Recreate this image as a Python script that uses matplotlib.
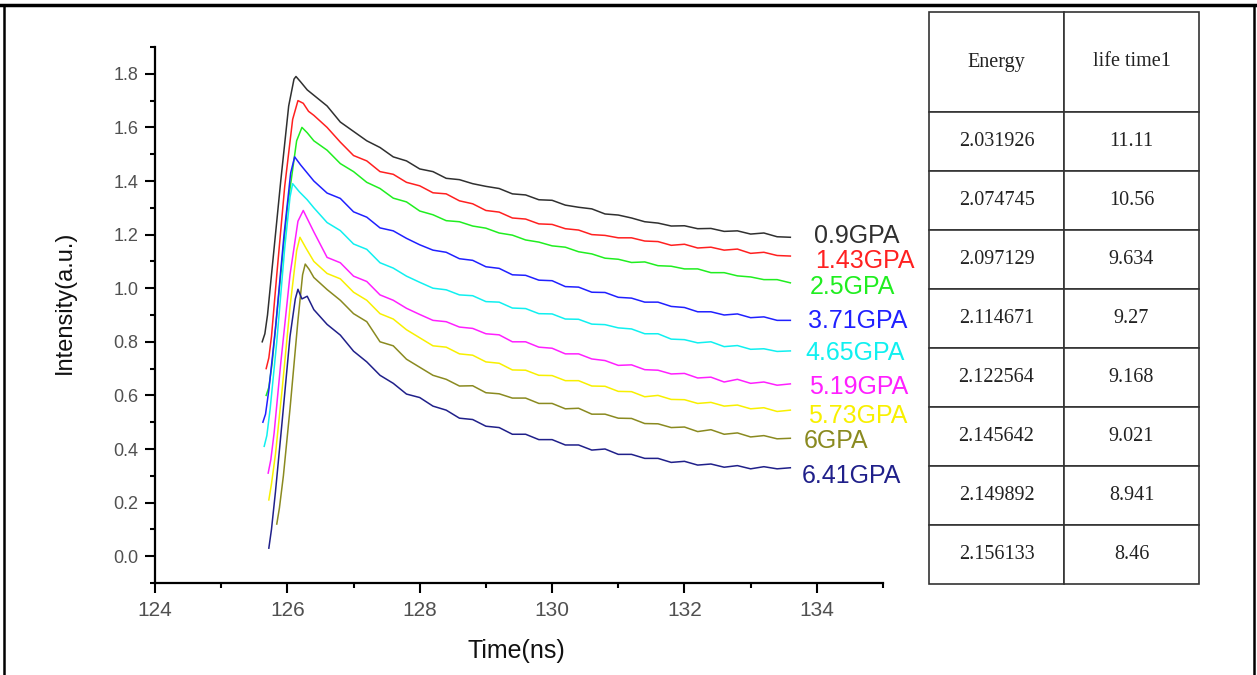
import matplotlib
matplotlib.use("Agg")
import matplotlib.pyplot as plt
from matplotlib.ticker import MultipleLocator, FormatStrFormatter

plt.rcParams['font.family'] = ['Liberation Sans', 'DejaVu Sans']

# shared time grid for the decay tails (ns)
t_tail = [126.4, 126.6, 126.8, 127.0, 127.2, 127.4, 127.6, 127.8, 128.0, 128.2,
          128.4, 128.6, 128.8, 129.0, 129.2, 129.4, 129.6, 129.8, 130.0, 130.2,
          130.4, 130.6, 130.8, 131.0, 131.2, 131.4, 131.6, 131.8, 132.0, 132.2,
          132.4, 132.6, 132.8, 133.0, 133.2, 133.4, 133.6]

labels = ['0.9GPA', '1.43GPA', '2.5GPA', '3.71GPA', '4.65GPA',
          '5.19GPA', '5.73GPA', '6GPA', '6.41GPA']
colors = ['#303030', '#ff2020', '#20ee20', '#2020ff', '#10f0f0',
          '#ff20ff', '#f8f000', '#8a8a20', '#20208a']

rise_t = [
    [125.62, 125.66, 125.70, 125.78, 125.90, 126.02, 126.10, 126.13, 126.20, 126.30],
    [125.68, 125.72, 125.76, 125.84, 125.96, 126.08, 126.16, 126.24, 126.32],
    [125.68, 125.72, 125.77, 125.86, 126.00, 126.14, 126.22, 126.30],
    [125.63, 125.67, 125.72, 125.82, 125.95, 126.05, 126.11, 126.20, 126.30],
    [125.65, 125.69, 125.74, 125.84, 125.96, 126.04, 126.08, 126.18, 126.30],
    [125.71, 125.75, 125.80, 125.90, 126.04, 126.16, 126.24, 126.32],
    [125.72, 125.76, 125.82, 125.92, 126.04, 126.14, 126.19, 126.28],
    [125.84, 125.88, 125.94, 126.04, 126.16, 126.23, 126.27, 126.33],
    [125.72, 125.76, 125.82, 125.92, 126.04, 126.12, 126.16, 126.22, 126.30],
]
rise_v = [
    [0.80, 0.83, 0.90, 1.10, 1.40, 1.68, 1.78, 1.79, 1.77, 1.74],
    [0.70, 0.74, 0.82, 1.05, 1.38, 1.63, 1.70, 1.69, 1.66],
    [0.60, 0.63, 0.72, 0.95, 1.30, 1.55, 1.60, 1.58],
    [0.50, 0.53, 0.62, 0.85, 1.20, 1.43, 1.49, 1.46, 1.43],
    [0.41, 0.45, 0.55, 0.80, 1.15, 1.34, 1.39, 1.36, 1.33],
    [0.31, 0.36, 0.46, 0.72, 1.05, 1.25, 1.29, 1.25],
    [0.21, 0.27, 0.38, 0.62, 0.93, 1.14, 1.19, 1.15],
    [0.12, 0.18, 0.30, 0.55, 0.88, 1.05, 1.09, 1.07],
    [0.03, 0.10, 0.24, 0.50, 0.82, 0.96, 0.996, 0.96, 0.97],
]
tail_v = [
    [1.72, 1.68, 1.62, 1.585, 1.55, 1.525, 1.49, 1.475, 1.445, 1.435, 1.41, 1.405, 1.39,
     1.38, 1.372, 1.352, 1.348, 1.33, 1.328, 1.31, 1.302, 1.296, 1.277, 1.273, 1.262,
     1.248, 1.243, 1.232, 1.233, 1.222, 1.223, 1.212, 1.214, 1.202, 1.206, 1.192, 1.19],
    [1.645, 1.6, 1.545, 1.495, 1.475, 1.435, 1.425, 1.395, 1.382, 1.356, 1.352, 1.326,
     1.315, 1.29, 1.284, 1.262, 1.258, 1.24, 1.238, 1.222, 1.217, 1.2, 1.197, 1.188,
     1.188, 1.176, 1.174, 1.16, 1.164, 1.15, 1.153, 1.142, 1.146, 1.13, 1.134, 1.122, 1.12],
    [1.55, 1.515, 1.465, 1.435, 1.395, 1.372, 1.336, 1.322, 1.288, 1.274, 1.252, 1.248,
     1.232, 1.224, 1.206, 1.198, 1.18, 1.172, 1.158, 1.153, 1.136, 1.128, 1.112, 1.108,
     1.096, 1.098, 1.084, 1.082, 1.072, 1.072, 1.058, 1.058, 1.046, 1.042, 1.032, 1.032, 1.02],
    [1.40, 1.355, 1.335, 1.285, 1.265, 1.225, 1.214, 1.186, 1.162, 1.142, 1.134, 1.11,
     1.104, 1.08, 1.074, 1.05, 1.048, 1.03, 1.028, 1.006, 1.004, 0.985, 0.984, 0.966,
     0.963, 0.948, 0.948, 0.932, 0.928, 0.912, 0.912, 0.9, 0.904, 0.89, 0.893, 0.88, 0.88],
    [1.30, 1.245, 1.215, 1.165, 1.145, 1.095, 1.075, 1.045, 1.022, 1.0, 0.994, 0.975,
     0.972, 0.95, 0.948, 0.926, 0.924, 0.905, 0.904, 0.885, 0.884, 0.866, 0.864, 0.852,
     0.848, 0.83, 0.83, 0.81, 0.808, 0.796, 0.8, 0.782, 0.786, 0.772, 0.774, 0.764, 0.766],
    [1.21, 1.115, 1.095, 1.045, 1.025, 0.975, 0.955, 0.925, 0.902, 0.88, 0.875, 0.855,
     0.85, 0.83, 0.826, 0.8, 0.8, 0.78, 0.776, 0.755, 0.755, 0.736, 0.73, 0.712, 0.714,
     0.696, 0.694, 0.68, 0.682, 0.665, 0.668, 0.65, 0.66, 0.645, 0.65, 0.638, 0.643],
    [1.10, 1.055, 1.035, 0.985, 0.955, 0.905, 0.885, 0.845, 0.815, 0.785, 0.78, 0.755,
     0.75, 0.725, 0.72, 0.695, 0.694, 0.675, 0.674, 0.655, 0.655, 0.635, 0.634, 0.615,
     0.614, 0.595, 0.6, 0.585, 0.584, 0.57, 0.574, 0.56, 0.564, 0.55, 0.554, 0.54, 0.545],
    [1.04, 0.995, 0.955, 0.905, 0.875, 0.80, 0.785, 0.735, 0.705, 0.675, 0.66, 0.635,
     0.636, 0.61, 0.606, 0.59, 0.59, 0.57, 0.57, 0.55, 0.552, 0.53, 0.53, 0.515, 0.514,
     0.495, 0.494, 0.48, 0.482, 0.465, 0.472, 0.455, 0.46, 0.445, 0.45, 0.438, 0.44],
    [0.92, 0.865, 0.825, 0.765, 0.725, 0.675, 0.645, 0.605, 0.592, 0.56, 0.545, 0.515,
     0.51, 0.485, 0.48, 0.455, 0.455, 0.435, 0.435, 0.415, 0.415, 0.396, 0.4, 0.38, 0.38,
     0.365, 0.365, 0.35, 0.354, 0.34, 0.344, 0.332, 0.338, 0.326, 0.334, 0.326, 0.33],
]

# label anchor positions (data coords)
label_x = [133.95, 133.98, 133.90, 133.86, 133.82, 133.88, 133.86, 133.80, 133.77]
label_y = [1.195, 1.10, 1.005, 0.877, 0.76, 0.633, 0.524, 0.43, 0.30]

energy = ['2.031926', '2.074745', '2.097129', '2.114671',
          '2.122564', '2.145642', '2.149892', '2.156133']
lifetime = ['11.11', '10.56', '9.634', '9.27', '9.168', '9.021', '8.941', '8.46']

W, H = 1257, 675
fig = plt.figure(figsize=(W / 100, H / 100), dpi=100)
ax = fig.add_axes([155 / W, 1 - 583 / H, (883 - 155) / W, (583 - 47) / H])

for i in range(len(labels)):
    ax.plot(rise_t[i] + t_tail, rise_v[i] + tail_v[i], color=colors[i], lw=1.1)
    ax.text(label_x[i], label_y[i], labels[i], color=colors[i], fontsize=18,
            ha='left', va='center')

ax.set_xlim(124, 135)
ax.set_ylim(-0.1, 1.9)
ax.xaxis.set_major_locator(MultipleLocator(2))
ax.xaxis.set_minor_locator(MultipleLocator(1))
ax.yaxis.set_major_locator(MultipleLocator(0.2))
ax.yaxis.set_minor_locator(MultipleLocator(0.1))
ax.yaxis.set_major_formatter(FormatStrFormatter('%.1f'))
for s in ['top', 'right']:
    ax.spines[s].set_visible(False)
for s in ['left', 'bottom']:
    ax.spines[s].set_linewidth(1.6)
ax.tick_params(which='major', direction='out', length=7, width=1.5,
               labelcolor='#505050')
ax.tick_params(which='minor', direction='out', length=3.5, width=1.5)
ax.tick_params(axis='y', which='major', labelsize=13, pad=5)
ax.tick_params(axis='x', which='major', labelsize=15, pad=6)
for lab in ax.get_xticklabels():
    lab.set_fontfamily(['Liberation Sans Narrow', 'Liberation Sans'])
ax.patch.set_alpha(0)

fig.text(65 / W, 1 - 302 / H, 'Intensity(a.u.)', rotation=90, fontsize=17,
         ha='center', va='center', color='#111111')
fig.text(516 / W, 1 - 651 / H, 'Time(ns)', fontsize=18,
         ha='center', va='center', color='#111111',
         family=['Liberation Sans Narrow', 'Liberation Sans'])

# table on the right
tax = fig.add_axes([929 / W, 1 - 584 / H, (1199 - 929) / W, (584 - 12) / H])
tax.axis('off')
cells = [['Energy', 'life time1']] + [[e, l] for e, l in zip(energy, lifetime)]
tb = tax.table(cellText=cells, cellLoc='center', bbox=[0, 0, 1, 1])
tb.auto_set_font_size(False)
for (r, c), cell in tb.get_celld().items():
    cell.set_height(100 if r == 0 else 59)
    cell.set_edgecolor('#333333')
    cell.set_linewidth(1.2)
    cell.get_text().set_fontfamily('Liberation Serif')
    cell.get_text().set_fontsize(14.5)
    cell.get_text().set_color('#222222')

# page frame
fig.add_artist(plt.Line2D([0, 1], [1 - 5 / H, 1 - 5 / H], color='black', lw=2.5,
                          transform=fig.transFigure))
fig.add_artist(plt.Line2D([4 / W, 4 / W], [0, 1 - 5 / H], color='black', lw=1.8,
                          transform=fig.transFigure))
fig.add_artist(plt.Line2D([1254 / W, 1254 / W], [0, 1 - 5 / H], color='black', lw=1.8,
                          transform=fig.transFigure))

fig.savefig('out.png', dpi=100)
